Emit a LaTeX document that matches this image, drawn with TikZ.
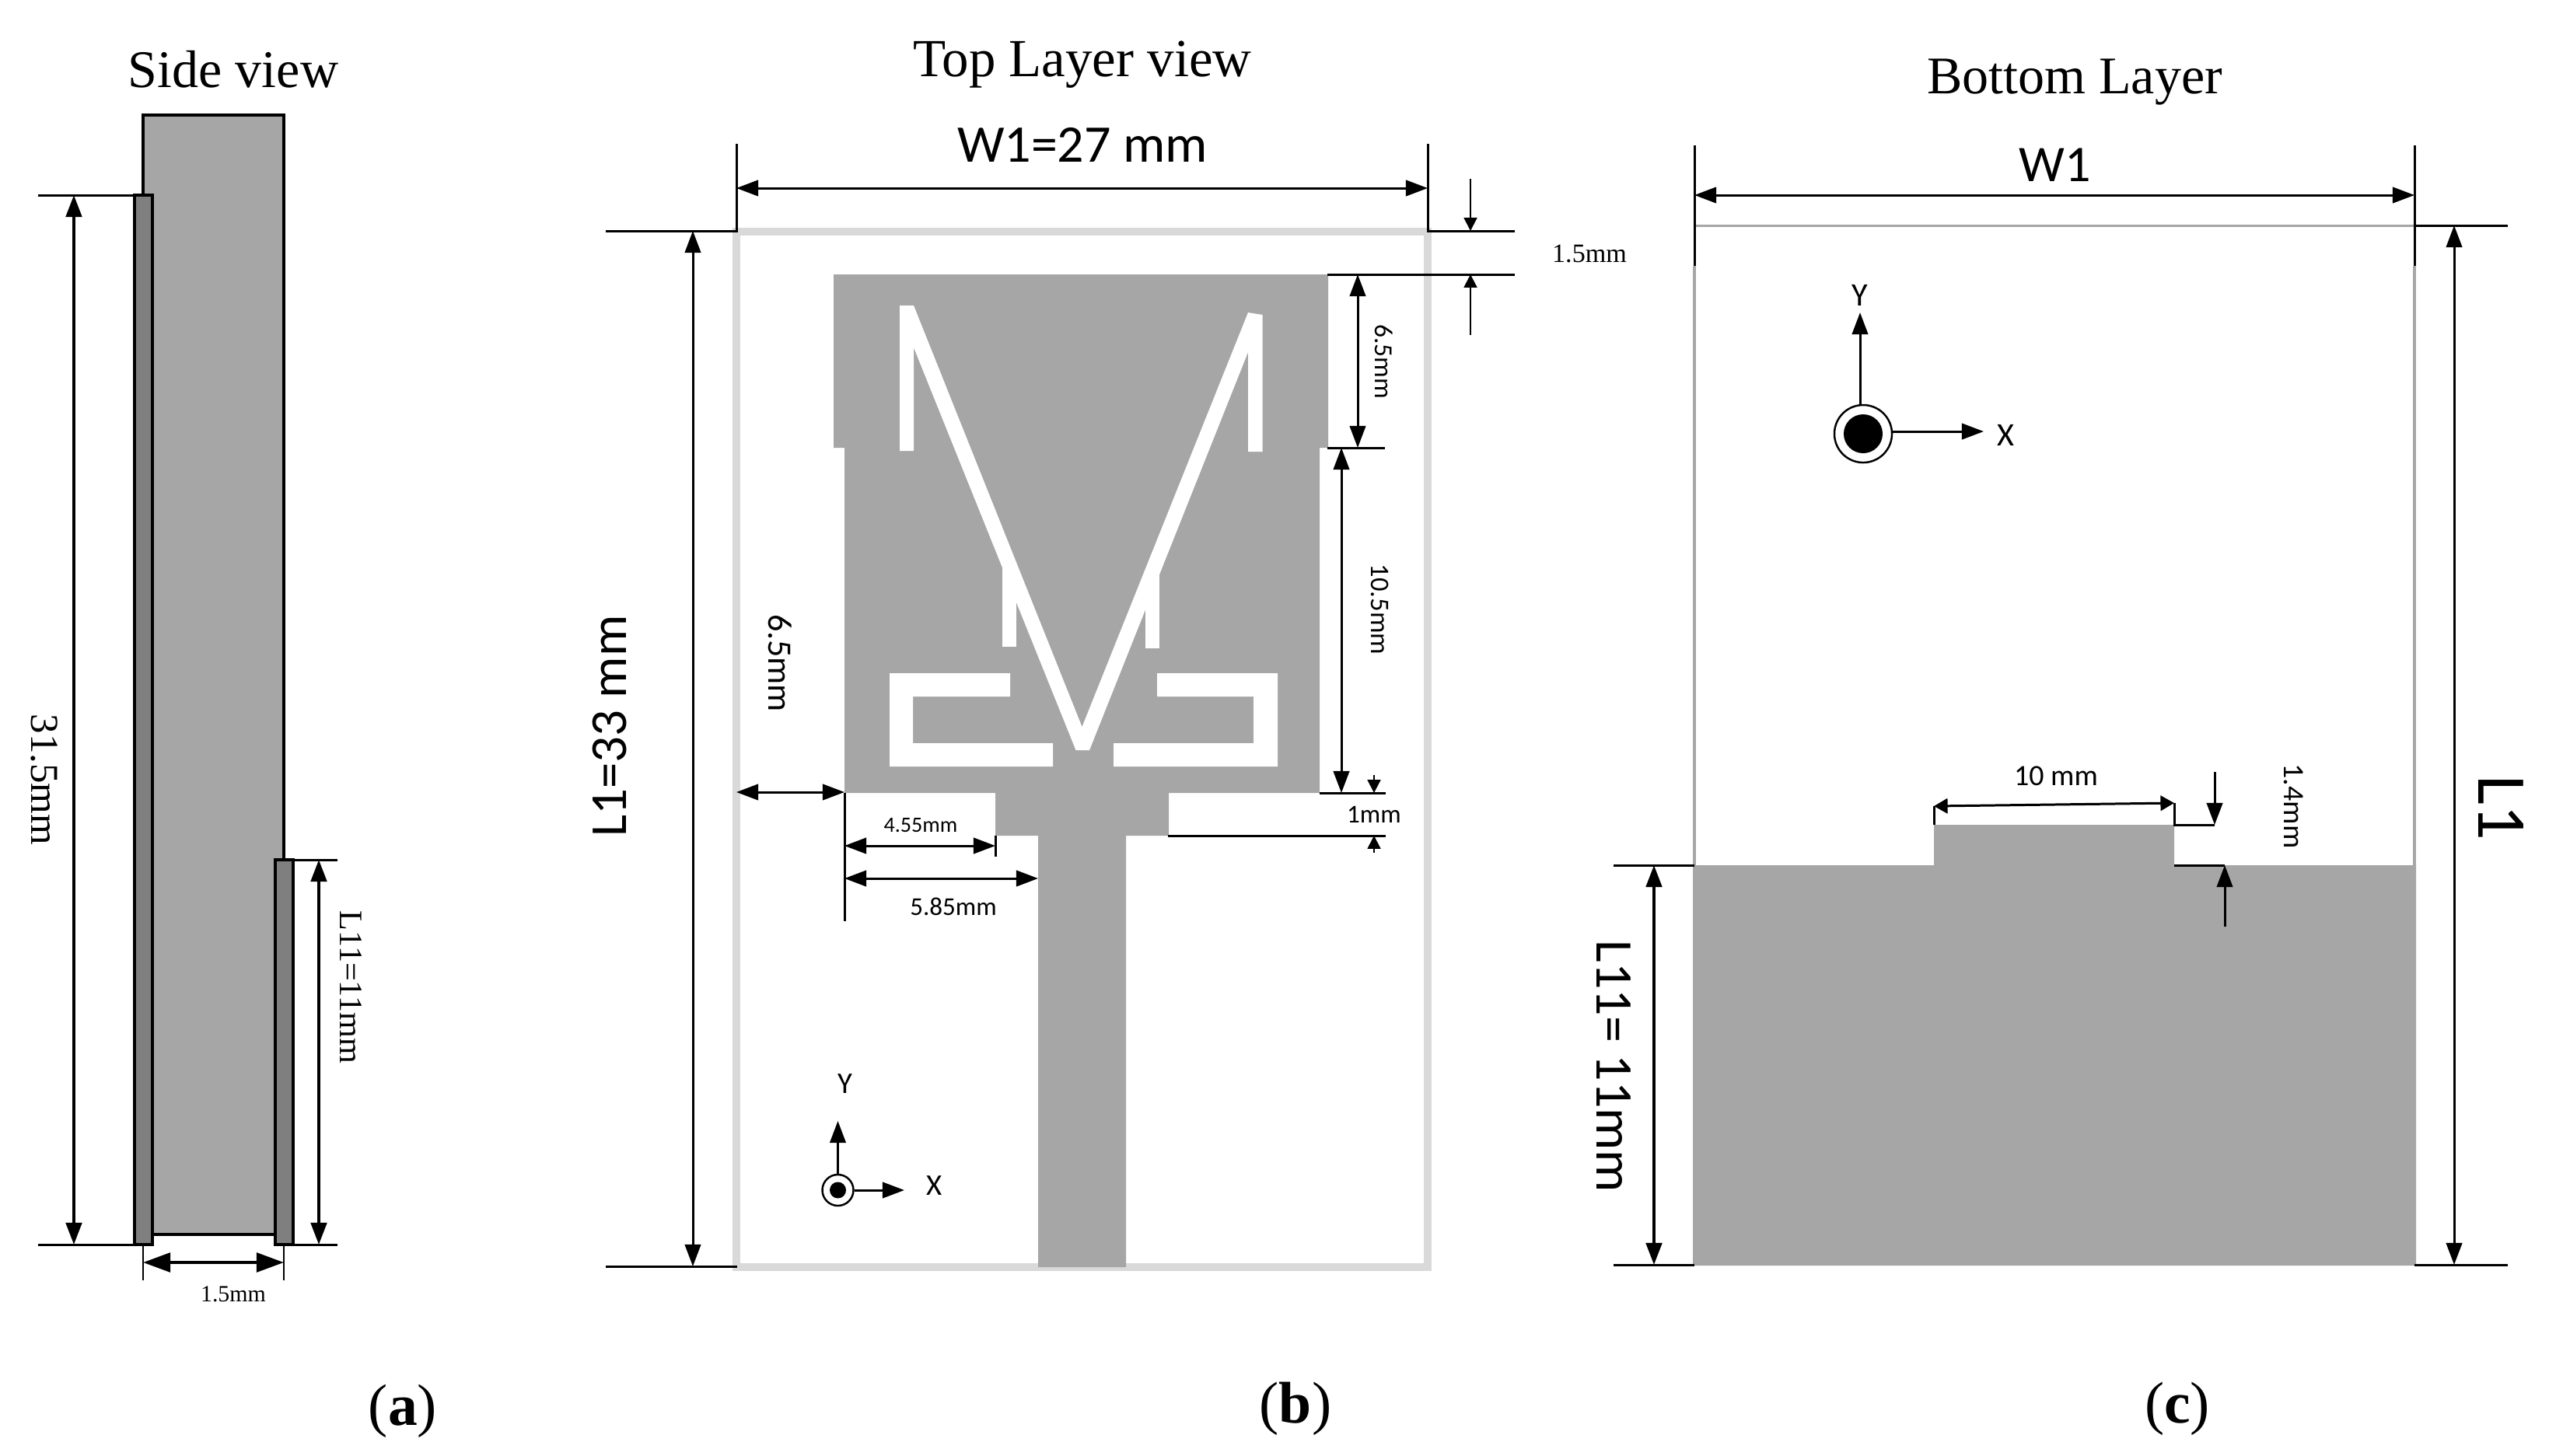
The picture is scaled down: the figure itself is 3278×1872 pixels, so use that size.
\documentclass[tikz,border=0pt]{standalone}
\usepackage{fontspec}
\usepackage{tikz}
\usetikzlibrary{arrows.meta}
\setmainfont{Liberation Serif}
\newfontfamily\carlitofont{Carlito}
\definecolor{patchgray}{HTML}{A6A6A6}
\definecolor{layergray}{HTML}{7F7F7F}
\definecolor{framegray}{HTML}{D9D9D9}
\tikzset{
    timestext/.style={font=\fontsize{#1}{#1}\selectfont, inner sep=0pt},
    calibritext/.style={font=\carlitofont\fontsize{#1}{#1}\selectfont, inner sep=0pt},
    dimline/.style={line width=0.85pt},
    dimarrow/.style={line width=0.85pt, <->},
    dimhead/.style={line width=0.85pt, ->},
    smallhead/.style={line width=0.6pt, -{Triangle[length=4.8pt,width=4.8pt]}},
    sidearrow/.style={line width=1.1pt, <->},
    wideheads/.style={line width=1.2pt, {Triangle[length=10pt,width=7pt]}-{Triangle[length=10pt,width=7pt]}},
    thinheads/.style={line width=0.85pt, {Triangle[length=5pt,width=5.5pt]}-{Triangle[length=5pt,width=5.5pt]}},
    axisring/.style={circle, draw, line width=0.7pt, fill=white, inner sep=0pt, minimum size=#1},
    axisdot/.style={circle, fill=black, inner sep=0pt, minimum size=#1},
    >={Triangle[length=8pt,width=5.8pt]}
}
\begin{document}
\begin{tikzpicture}[x=0.01cm,y=-0.01cm]
    \useasboundingbox (0,0) rectangle (3278,1872);
    % (a) side view
    \node[timestext=19.35] (titlea) at (300,89) {Side view};
    \draw[fill=patchgray, line width=1.1pt] (184,148) rectangle (365,1588);
    \draw[fill=layergray, line width=1.1pt] (173,251) rectangle (196,1601);
    \draw[fill=layergray, line width=1.1pt] (354,1106) rectangle (377,1601);
    \draw[dimline] (49,251)--(173,251);
    \draw[dimline] (49,1601)--(173,1601);
    \draw[sidearrow] (95,251)--(95,1601);
    \node[timestext=14.5, rotate=-90] (sidelength) at (57,1003) {31.5mm};
    \draw[dimline] (377,1106)--(434,1106);
    \draw[dimline] (377,1601)--(434,1601);
    \draw[sidearrow] (410,1106)--(410,1601);
    \node[timestext=12, rotate=-90] (sideground) at (451,1270) {L11=11mm};
    \draw[dimline] (184,1601)--(184,1647);
    \draw[dimline] (365,1601)--(365,1647);
    \draw[wideheads] (184,1624)--(365,1624);
    \node[timestext=8.5] (sidethick) at (300,1665) {1.5mm};
    \node[timestext=21.5] (capa) at (518,1815) {(\textbf{a})};
    % (b) top layer
    \node[timestext=19.6] (titleb) at (1392,83) {Top Layer view};
    \draw[framegray, line width=2.85pt] (947,298) rectangle (1836,1630);
    \fill[patchgray] (1072,353)--(1708,353)--(1708,576)--(1697,576)--(1697,1020)--(1503,1020)--(1503,1075)
        --(1448,1075)--(1448,1630)--(1335,1630)--(1335,1075)--(1280,1075)--(1280,1020)--(1086,1020)--(1086,576)--(1072,576)--cycle;
    % the white slots
    \fill[white] (1157,393)--(1175,393)--(1391.5,935)--(1605,402)--(1623.5,405)--(1623.5,581)--(1605,581)--(1605,453)
        --(1401,965)--(1383.5,965)--(1175,447)--(1175,580)--(1157,580)--cycle;
    \fill[white] (1289,730) rectangle (1307,832);
    \fill[white] (1472.5,739) rectangle (1491,834);
    \fill[white] (1144,866)--(1299,866)--(1299,896)--(1174,896)--(1174,956)--(1354,956)--(1354,986)--(1144,986)--cycle;
    \fill[white] (1643,866)--(1488,866)--(1488,896)--(1612,896)--(1612,956)--(1432,956)--(1432,986)--(1643,986)--cycle;
    % dimensions
    \node[calibritext=19.35] (widthb) at (1392,186) {W1=27 mm};
    \draw[dimline] (947,185)--(947,297)--(779,297);
    \draw[dimline] (1836,185)--(1836,297)--(1948,297);
    \draw[dimarrow] (947,242)--(1836,242);
    \draw[dimarrow] (891,297)--(891,1629);
    \draw[dimline] (779,1629)--(948,1629);
    \node[calibritext=19, rotate=90] (lengthb) at (784,934) {L1=33 mm};
    \draw[dimline] (1707,353)--(1948,353);
    \draw[smallhead] (1891,230)--(1891,297);
    \draw[smallhead] (1891,431)--(1891,353);
    \node[timestext=9.7] (thickb) at (2044,326) {1.5mm};
    \draw[dimline] (1707,576)--(1781,576);
    \draw[dimarrow] (1746,353)--(1746,576);
    \node[calibritext=9.5, rotate=-90] (slotb) at (1780,465) {6.5mm};
    \draw[dimarrow] (1725,576)--(1725,1020);
    \node[calibritext=9.8, rotate=-90] (lowerb) at (1775,784) {10.5mm};
    \draw[dimline] (1697,1020)--(1782,1020);
    \draw[dimline] (1502,1075)--(1782,1075);
    \draw[smallhead] (1767,997)--(1767,1020);
    \draw[smallhead] (1767,1097)--(1767,1075);
    \node[calibritext=9.4] (stubb) at (1767,1048) {1mm};
    \draw[dimline] (1086,1020)--(1086,1185);
    \draw[dimline] (1280,1075)--(1280,1102);
    \draw[dimarrow] (1086,1088)--(1280,1088);
    \node[calibritext=8] (stubw) at (1184,1062) {4.55mm};
    \draw[dimarrow] (1086,1130)--(1335,1130);
    \node[calibritext=9.4] (feedw) at (1226,1166) {5.85mm};
    \draw[dimarrow] (947,1019)--(1086,1019);
    \node[calibritext=12.5, rotate=-90] (edgeb) at (1003,853) {6.5mm};
    % axes of (b)
    \node[axisring=40*0.2845pt] (ringb) at (1077.5,1531) {};
    \node[axisdot=21*0.2845pt] (dotb) at (ringb) {};
    \coordinate (yendb) at (1077.5,1442);
    \coordinate (xendb) at (1163,1531);
    \draw[dimhead] (ringb.north)--(yendb);
    \draw[dimhead] (ringb.east)--(xendb);
    \node[calibritext=11] (ylabelb) at (1087,1394) {Y};
    \node[calibritext=11] (xlabelb) at (1202,1525) {X};
    \node[timestext=21.5] (capb) at (1666,1812) {(\textbf{b})};
    % (c) bottom layer
    \node[timestext=19.35] (titlec) at (2668,106) {Bottom Layer};
    \draw[patchgray, line width=0.85pt] (2179,342)--(2179,290)--(3105,290)--(3105,342);
    \draw[patchgray, line width=1.1pt] (2179,342)--(2179,1113);
    \draw[patchgray, line width=1.1pt] (3105,342)--(3105,1113);
    \fill[patchgray] (2177,1113)--(2487,1113)--(2487,1061)--(2796,1061)--(2796,1113)--(3107,1113)--(3107,1628)--(2177,1628)--cycle;
    \draw[dimline] (2179,187)--(2179,342);
    \draw[dimline] (3105,187)--(3105,342);
    \draw[dimarrow] (2179,251)--(3105,251);
    \node[calibritext=18.8] (widthc) at (2643,212) {W1};
    \draw[dimline] (3105,290)--(3225,290);
    \draw[dimline] (3105,1627)--(3225,1627);
    \draw[dimarrow] (3156,290)--(3156,1627);
    \node[calibritext=25.6, rotate=-90] (lengthc) at (3216,1039) {L1};
    \draw[dimline] (2075,1113)--(2179,1113);
    \draw[dimline] (2075,1627)--(2179,1627);
    \draw[sidearrow] (2127,1113)--(2127,1627);
    \node[calibritext=19.35, rotate=-90] (groundc) at (2075,1372) {L11= 11mm};
    \draw[dimline] (2487,1061)--(2487,1037);
    \draw[dimline] (2848,1061)--(2796,1061)--(2796,1033);
    \draw[dimline] (2796,1113)--(2861,1113);
    \draw[thinheads] (2487,1037)--(2796,1033);
    \draw[dimhead] (2848,993)--(2848,1061);
    \draw[dimhead] (2861,1192)--(2861,1113);
    \node[calibritext=10.8] (tabw) at (2644,998) {10 mm};
    \node[calibritext=10.8, rotate=-90] (tabh) at (2950,1037) {1.4mm};
    % axes of (c)
    \node[axisring=74*0.2845pt] (ringc) at (2396,558) {};
    \node[axisdot=50*0.2845pt] (dotc) at (ringc) {};
    \coordinate (yendc) at (2392,402);
    \coordinate (xendc) at (2551,555);
    \draw[dimhead] (2392,521)--(yendc);
    \draw[dimhead] (2433,555)--(xendc);
    \node[calibritext=12] (ylabelc) at (2392,380) {Y};
    \node[calibritext=12] (xlabelc) at (2579,560) {X};
    \node[timestext=21.5] (capc) at (2800,1812) {(\textbf{c})};
\end{tikzpicture}
\end{document}
